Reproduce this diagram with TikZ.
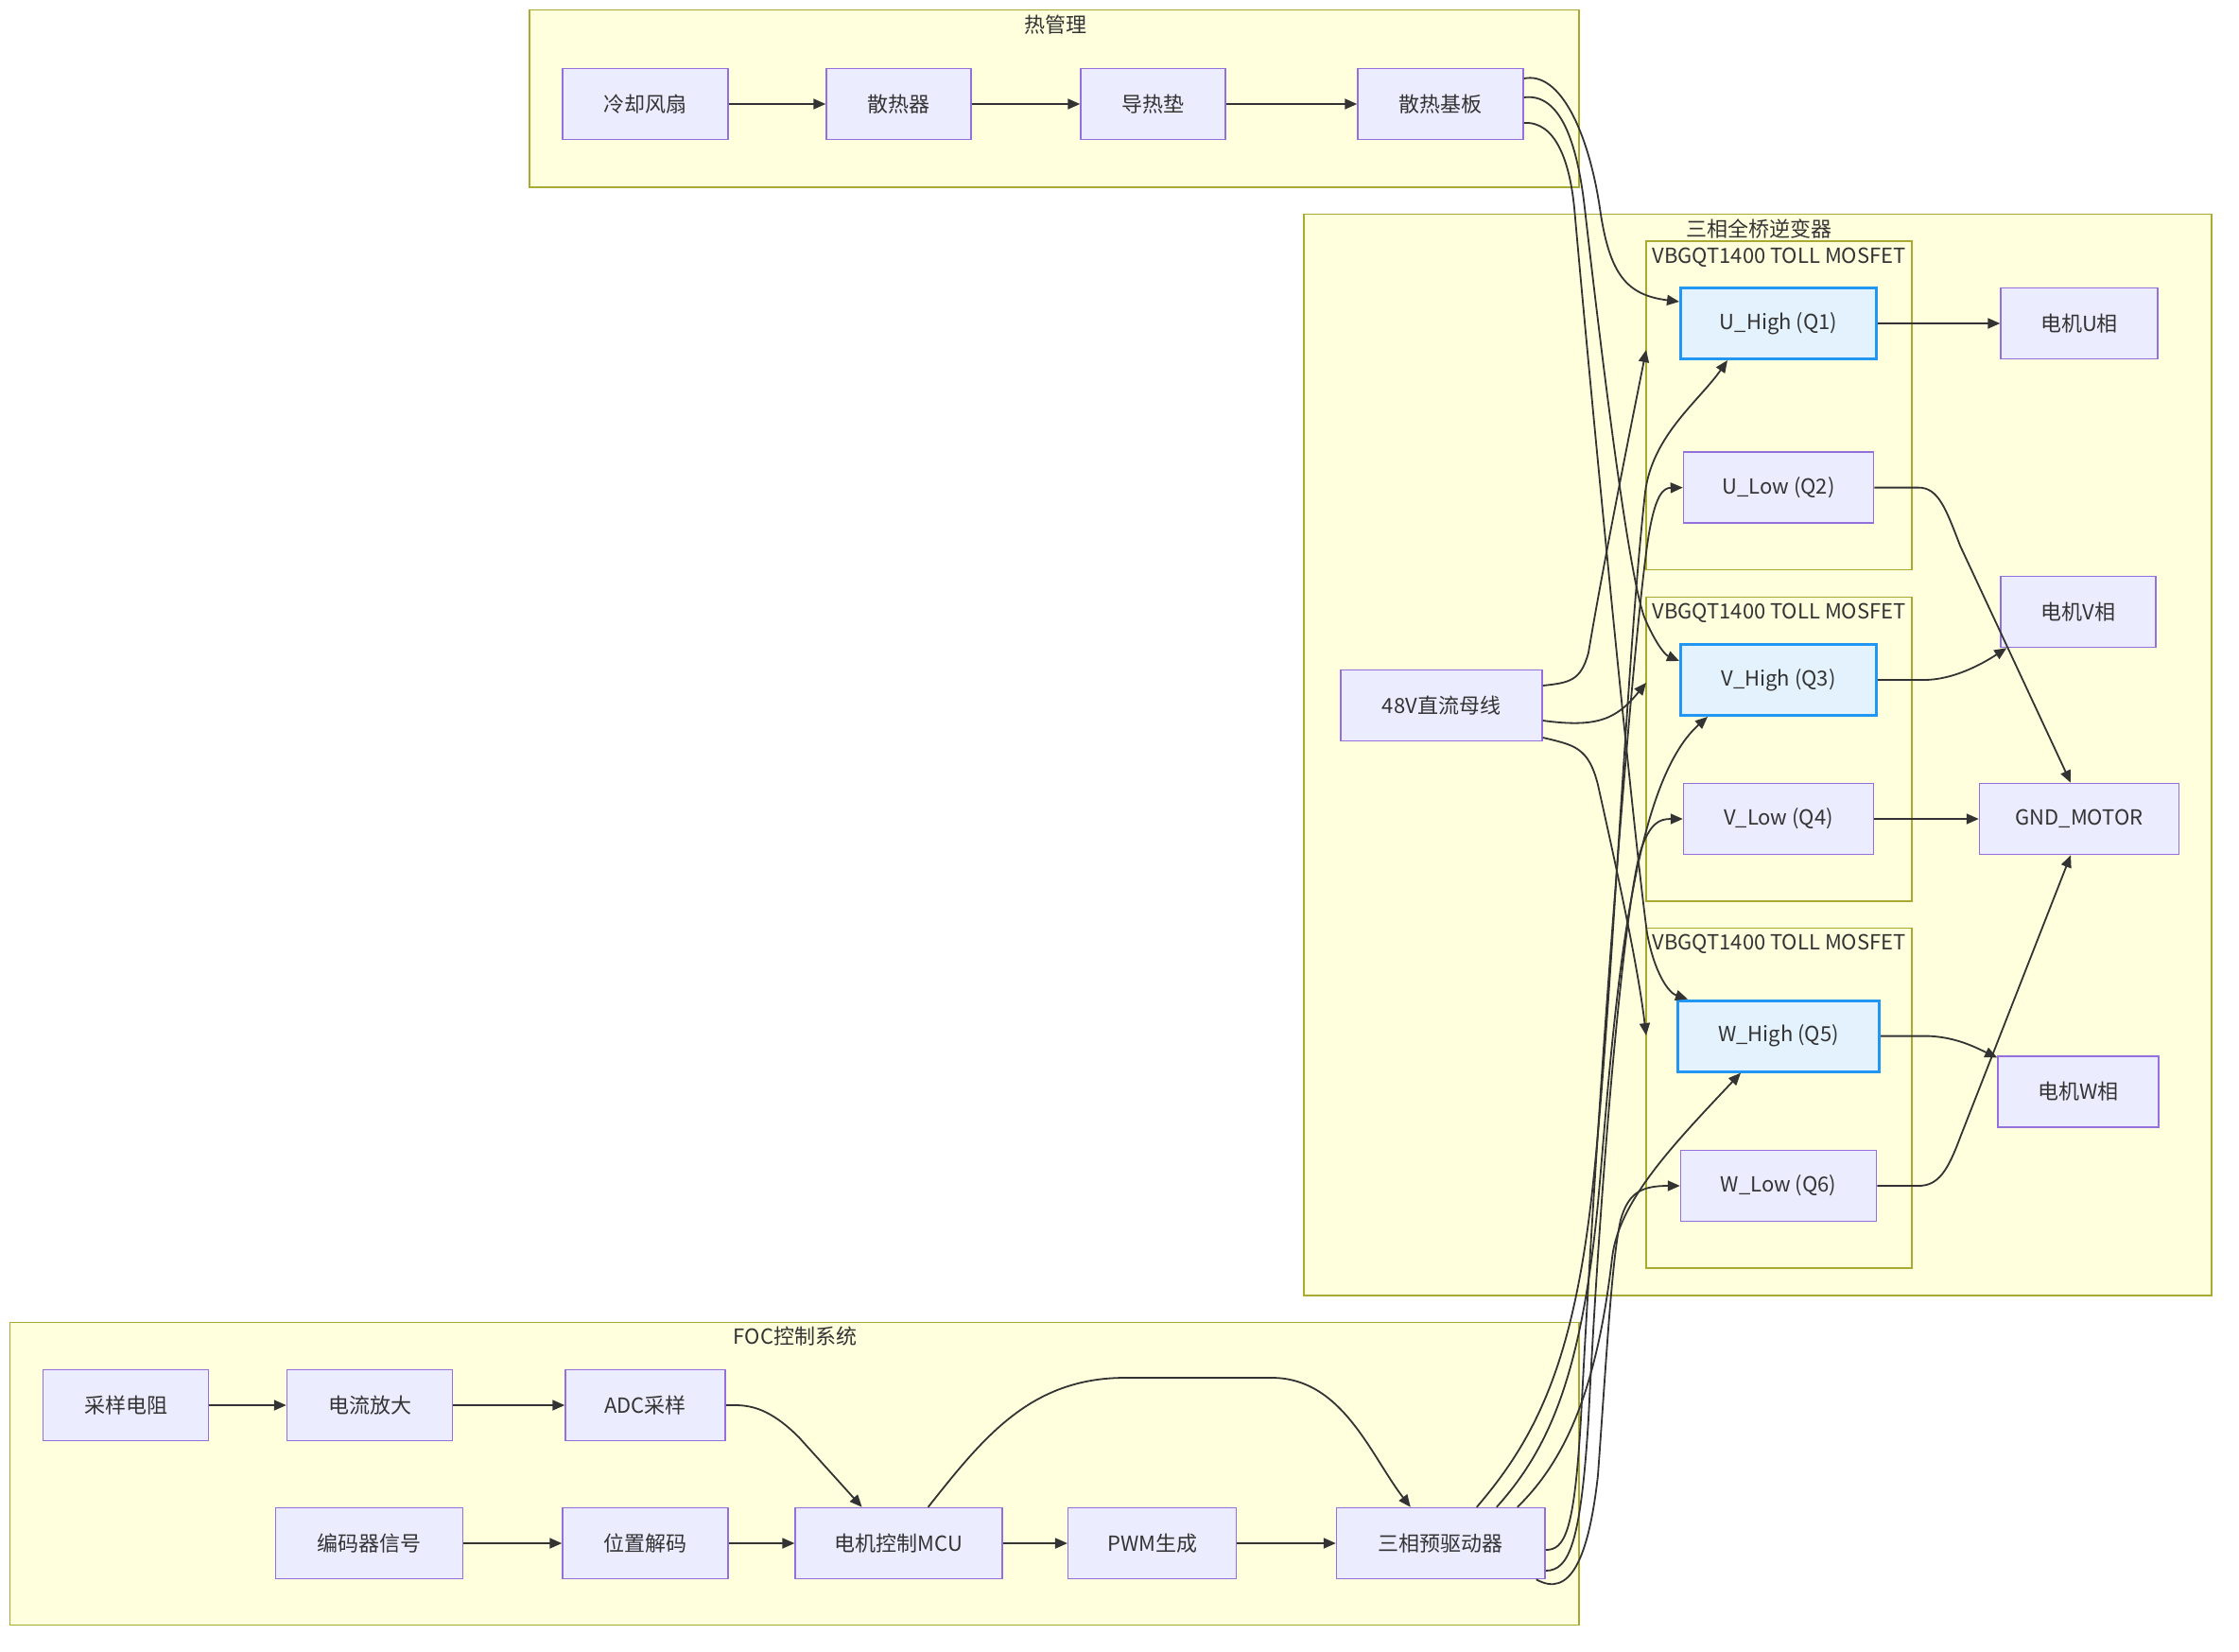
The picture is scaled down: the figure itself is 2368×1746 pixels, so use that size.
\documentclass[tikz,border=0pt]{standalone}
\usepackage{fontspec}
\setmainfont{Noto Sans CJK SC}
\usetikzlibrary{arrows.meta,calc}
\definecolor{clfill}{HTML}{FFFFDE}
\definecolor{cldraw}{HTML}{AAAA33}
\definecolor{nfill}{HTML}{ECECFF}
\definecolor{ndraw}{HTML}{9370DB}
\definecolor{hfill}{HTML}{E3F2FD}
\definecolor{hdraw}{HTML}{2196F3}
\definecolor{txt}{HTML}{333333}
\definecolor{edgec}{HTML}{333333}
\begin{document}
\begin{tikzpicture}[x=1pt,y=-1pt,
  box/.style={draw=ndraw,fill=nfill,line width=1.5pt,inner sep=0pt,minimum height=75pt,text=txt,font=\fontsize{22}{26}\selectfont},
  hbox/.style={box,draw=hdraw,fill=hfill,line width=3pt},
  cluster/.style={draw=cldraw,fill=clfill,line width=1.5pt},
  ctitle/.style={text=txt,font=\fontsize{22}{26}\selectfont,inner sep=0pt},
  arr/.style={draw=edgec,line width=1.8pt,-{Triangle[length=13pt,width=11pt]}},
]
\useasboundingbox (0,0) rectangle (2368,1746);
\fill[white] (0,0) rectangle (2368,1746);

% clusters
\draw[cluster] (560,10.6) rectangle (1670,197.8);
\node[ctitle] (tthermal) at (1116,26) {热管理};
\draw[cluster] (1379,226.5) rectangle (2339,1370);
\node[ctitle] (tinv) at (1860,242) {三相全桥逆变器};
\draw[cluster] (1741,255) rectangle (2022,602.6);
\node[ctitle] (tsub1) at (1881.5,272) {VBGQT1400 TOLL MOSFET};
\draw[cluster] (1741,631.3) rectangle (2022,953);
\node[ctitle] (tsub2) at (1881.5,648) {VBGQT1400 TOLL MOSFET};
\draw[cluster] (1741,981.6) rectangle (2022,1341);
\node[ctitle] (tsub3) at (1881.5,998) {VBGQT1400 TOLL MOSFET};
\draw[cluster] (10.6,1398.5) rectangle (1670,1718.6);
\node[ctitle] (tfoc) at (841,1413) {FOC控制系统};

\coordinate (s1in) at (1741,370);
\coordinate (s2in) at (1741,722);
\coordinate (s3in) at (1741,1095);

% nodes
\node[box,minimum width=175pt] (fan) at (682.5,110) {冷却风扇};
\node[box,minimum width=153pt] (hs) at (950.5,110) {散热器};
\node[box,minimum width=153pt] (pad) at (1219.5,110) {导热垫};
\node[box,minimum width=175pt] (sb) at (1523.5,110) {散热基板};

\node[hbox,minimum width=207pt] (uh) at (1881,342) {U\_High (Q1)};
\node[box,minimum width=201pt] (ul) at (1881,515.6) {U\_Low (Q2)};
\node[hbox,minimum width=207pt] (vh) at (1881,719) {V\_High (Q3)};
\node[box,minimum width=201pt] (vl) at (1881,866) {V\_Low (Q4)};
\node[hbox,minimum width=213pt] (wh) at (1881,1095.6) {W\_High (Q5)};
\node[box,minimum width=207pt] (wl) at (1881,1254) {W\_Low (Q6)};
\node[box,minimum width=166pt] (mu) at (2199,342) {电机U相};
\node[box,minimum width=164pt] (mv) at (2198,647) {电机V相};
\node[box,minimum width=211pt] (gnd) at (2199,866) {GND\_MOTOR};
\node[box,minimum width=170pt] (mw) at (2198,1154.6) {电机W相};
\node[box,minimum width=213pt] (bus) at (1524.5,746) {48V直流母线};

\node[box,minimum width=175pt] (rs) at (133,1486) {采样电阻};
\node[box,minimum width=175pt] (amp) at (391,1486) {电流放大};
\node[box,minimum width=169pt] (adc) at (682.5,1486) {ADC采样};
\node[box,minimum width=198pt] (enc) at (390.4,1632) {编码器信号};
\node[box,minimum width=175pt] (dec) at (682.5,1632) {位置解码};
\node[box,minimum width=219pt] (mcu) at (950.6,1632) {电机控制MCU};
\node[box,minimum width=178pt] (pwm) at (1218.7,1632) {PWM生成};
\node[box,minimum width=220.5pt] (pd) at (1523.8,1632) {三相预驱动器};

% thermal chain
\draw[arr] (fan) -- (hs);
\draw[arr] (hs) -- (pad);
\draw[arr] (pad) -- (sb);
\draw[arr] ($(sb.east)+(0,-27)$) .. controls (1650,75) and (1680,140) .. (1692,220)
  .. controls (1702,290) and (1720,312) .. ($(uh.west)+(0,-23)$);
\draw[arr] ($(sb.east)+(0,-7)$) .. controls (1650,98) and (1668,150) .. (1676,220)
  .. controls (1700,430) and (1725,620) .. (1740,655)
  .. controls (1750,678) and (1760,692) .. ($(vh.west)+(0,-20)$);
\draw[arr] ($(sb.east)+(0,20)$) .. controls (1645,128) and (1660,170) .. (1665,220)
  .. controls (1690,500) and (1730,900) .. (1742,987)
  .. controls (1750,1030) and (1765,1050) .. ($(wh.north west)+(12,0)$);

% DC bus
\draw[arr] ($(bus.east)+(0,-21)$) .. controls (1660,722) and (1672,720) .. (1680,690)
  .. controls (1695,600) and (1725,450) .. (s1in);
\draw[arr] ($(bus.east)+(0,16)$) .. controls (1690,770) and (1710,760) .. (s2in);
\draw[arr] ($(bus.east)+(0,34)$) .. controls (1665,788) and (1680,790) .. (1690,830)
  .. controls (1710,920) and (1732,1020) .. (s3in);

% predriver
\draw[arr] ($(pd.north)+(38,0)$) .. controls (1625,1520) and (1665,1440) .. (1685,1250)
  .. controls (1705,1060) and (1720,700) .. (1740,520)
  .. controls (1748,460) and (1797,424) .. ($(uh.south)+(-54,0)$);
\draw[arr] ($(pd.north)+(59,0)$) .. controls (1640,1530) and (1675,1450) .. (1692,1250)
  .. controls (1708,1060) and (1725,830) .. ($(vh.south)+(-75,0)$);
\draw[arr] ($(pd.north)+(81,0)$) .. controls (1660,1540) and (1690,1460) .. (1705,1330)
  .. controls (1712,1270) and (1770,1210) .. ($(wh.south)+(-40,0)$);
\draw[arr] ($(pd.east)+(0,7)$) .. controls (1655,1639) and (1665,1620) .. (1672,1500)
  .. controls (1690,1150) and (1725,700) .. (1742,577)
  .. controls (1750,520) and (1760,516) .. (ul.west);
\draw[arr] ($(pd.east)+(0,29)$) .. controls (1660,1661) and (1672,1630) .. (1680,1500)
  .. controls (1695,1200) and (1720,950) .. (1735,900)
  .. controls (1745,870) and (1755,866) .. (vl.west);
\draw[arr] ($(pd.south east)+(-10,0)$) .. controls (1660,1690) and (1680,1650) .. (1690,1560)
  .. controls (1700,1420) and (1705,1330) .. (1714,1290)
  .. controls (1722,1262) and (1735,1254) .. (wl.west);

% outputs
\draw[arr] (uh) -- (mu);
\draw[arr] (ul.east) -- (2029,515.6) .. controls (2050,515.6) and (2058,538) .. (2073,577) -- ($(gnd.north)+(-9,0)$);
\draw[arr] (vh.east) -- (2035,719) .. controls (2065,719) and (2095,703) .. ($(mv.south west)+(7,0)$);
\draw[arr] (vl) -- (gnd);
\draw[arr] (wh.east) -- (2040,1095.6) .. controls (2070,1097) and (2090,1108) .. ($(mw.north west)+(0,2)$);
\draw[arr] (wl.east) -- (2029,1254) .. controls (2050,1254) and (2060,1238) .. (2073,1203) -- ($(gnd.south)+(-9,0)$);

% FOC
\draw[arr] (rs) -- (amp);
\draw[arr] (amp) -- (adc);
\draw[arr] (adc.east) -- (778,1486) .. controls (800,1486) and (820,1495) .. (845,1520) -- ($(mcu.north)+(-39,0)$);
\draw[arr] (enc) -- (dec);
\draw[arr] (dec) -- (mcu);
\draw[arr] (mcu) -- (pwm);
\draw[arr] (pwm) -- (pd);
\draw[arr] ($(mcu.north)+(31,0)$) .. controls (1040,1520) and (1090,1457) .. (1190,1457)
  -- (1345,1457) .. controls (1420,1457) and (1450,1540) .. ($(pd.north)+(-32,0)$);
\end{tikzpicture}
\end{document}
